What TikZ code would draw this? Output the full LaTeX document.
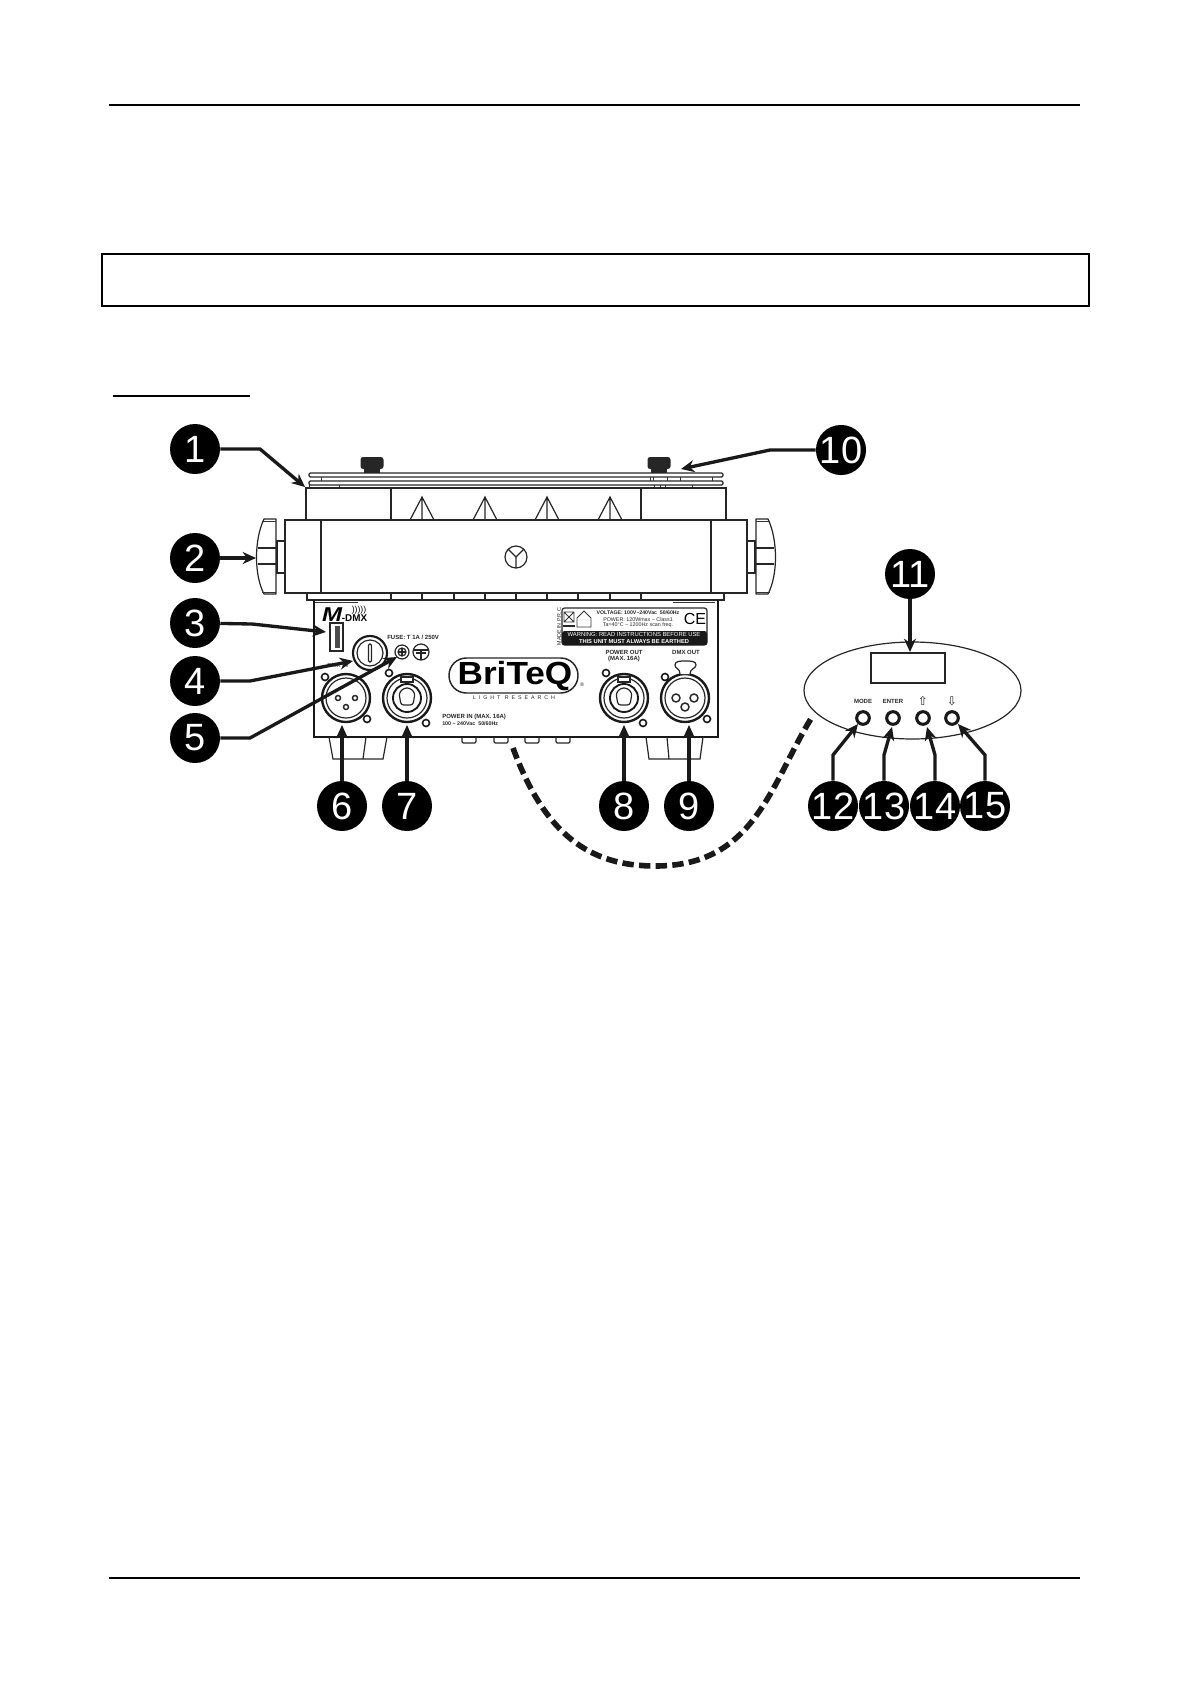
\documentclass[tikz,border=0pt]{standalone}
\usepackage{fontspec}
\usepackage{graphicx}
\setmainfont{Liberation Sans}
\newfontfamily\symfont{DejaVu Sans}
\usetikzlibrary{arrows.meta}

\tikzset{
    part/.style={draw=black!85, line width=0.9pt},
    thin part/.style={draw=black!80, line width=0.6pt},
    rule/.style={draw=black, line width=0.8pt},
    callout/.style={circle, fill=black, text=white, minimum size=37.5pt, inner sep=0pt,
        font=\fontsize{28.5}{30}\selectfont},
    pointer/.style={draw=black!90, line width=2.5pt, -{Stealth[length=10pt,width=9pt]}},
    cable/.style={draw=black!90, line width=4.2pt, dash pattern=on 8.5pt off 4pt},
    print/.style={inner sep=0pt, text=black!85, font=\bfseries\fontsize{4.5}{5}\selectfont},
    thin print/.style={inner sep=0pt, text=black!85, font=\fontsize{4}{5}\selectfont},
    warning print/.style={inner sep=0pt, text=white, font=\fontsize{4.4}{5}\selectfont},
    powercon/.pic={
        \draw[line width=1.8pt, draw=black!90] (0,0) circle (24);
        \draw[part] (0,0) circle (20);
        \draw[line width=1.4pt, draw=black!90] (0,0) circle (14);
        \draw[part, rounded corners=2pt] (-8,-5) -- (-3,-10) -- (3,-10) -- (8,-5) -- (6,7) -- (-6,7) -- cycle;
        \draw[part, fill=white] (-6,-21) rectangle (6,-16);
    },
    xlrplug/.pic={
        \draw[line width=1.8pt, draw=black!90] (0,0) circle (24);
        \draw[part] (0,0) circle (20);
    }
}

\begin{document}
\begin{tikzpicture}[x=0.75pt, y=-0.75pt]
    \useasboundingbox (0,0) rectangle (1192,1685);

    % page rules and empty box
    \draw[rule] (109,105) -- (1080,105);
    \draw[rule] (109,1578) -- (1080,1578);
    \draw[rule] (102,254) rectangle (1089,306);
    \draw[draw=black, line width=2.2pt] (113,396) -- (250,396);

    % top plate
    \draw[part, rounded corners=1pt] (309,473) rectangle (723,477);
    \draw[part, rounded corners=1pt] (309,481) rectangle (723,485);
    \foreach \bx in {321,650,653,667,680,712}
        \draw[thin part] (\bx,477) -- (\bx,481);
    \draw[thin part] (309,485) -- (309,488) (339,485) -- (339,488);
    \foreach \bx in {654,660,665,692}
        \draw[thin part] (\bx,485) -- (\bx,488);
    \foreach \kx in {372,659} {
        \fill[black!85, rounded corners=2pt] (\kx-11.5,457) rectangle (\kx+11.5,469);
        \fill[black!85] (\kx-8,469) rectangle (\kx+8,473);
    }

    % housing
    \draw[part] (306,488) rectangle (726,520);
    \draw[part] (391,488) -- (391,520) (641,488) -- (641,520);
    \foreach \tx in {422,485,547,610}
        \draw[part] (\tx-12,520) -- (\tx,497) -- (\tx+12,520) (\tx,497) -- (\tx,520);
    \draw[part] (285,520) rectangle (747,593);
    \draw[part] (321,520) -- (321,593) (711,520) -- (711,593);
    \draw[part] (516,557) circle (11);
    \draw[part] (516,568) -- (516,557) -- (508,549) (516,557) -- (524,549);

    % side knobs
    \foreach \kx/\ks in {0/1,1032/-1} {
        \begin{scope}[shift={(\kx,0)}, xscale=\ks]
            \draw[part] (277,541) rectangle (285,573);
            \draw[part, line join=round] (276,519) -- (264,519) .. controls (254,540) and (254,575) .. (264,594) -- (276,594) -- cycle;
            \draw[part] (258,548) -- (276,548) (258,564) -- (276,564);
            \draw[thin part] (262,521) -- (276,521) (262,592) -- (276,592);
        \end{scope}
    }

    % strip and rear panel
    \draw[part] (307,593) rectangle (724,600);
    \foreach \sx in {391,422,454,485,516,547,578,610,641}
        \draw[part] (\sx,593) -- (\sx,600);
    \draw[thin part] (313,602) -- (358,602) (673,602) -- (715,602);
    \draw[line width=1.5pt, draw=black!90] (314,600) -- (314,737) -- (718,737) -- (718,600);
    \draw[part] (329,737) -- (333,759) -- (383,759) -- (387,737);
    \draw[part] (366,737) -- (363,759);
    \draw[part] (646,737) -- (649,759) -- (700,759) -- (703,737);
    \draw[part] (667,737) -- (669,759);
    \foreach \fx in {469,501,532,563}
        \draw[part, rounded corners=1pt] (\fx-7,737) -- (\fx-7,743) -- (\fx+7,743) -- (\fx+7,737);

    % logo of the wireless system
    \node[inner sep=0pt, font=\bfseries\itshape\fontsize{15}{15}\selectfont] (mlogo) at (332,615) {\scalebox{1.2}[1]{M}};
    \node[inner sep=0pt, font=\bfseries\fontsize{7.4}{8}\selectfont] (dmxlogo) at (354.5,618.5) {-DMX};
    \node[inner sep=0pt, font=\fontsize{6.5}{7}\selectfont] (waves) at (359,610) {)))))};

    % usb, fuse, screw and earth
    \draw[part, line width=1.1pt] (330,623) rectangle (343,651);
    \fill[black!70] (335,626) rectangle (339.5,648);
    \draw[line width=1.6pt, draw=black!90] (370,653) circle (17);
    \draw[part] (370,653) circle (13);
    \draw[part, rounded corners=1pt] (368.5,644) rectangle (371.5,662);
    \draw[part] (402,652) circle (7);
    \draw[part] (402,652) circle (4);
    \draw[part] (398,652) -- (406,652) (402,648) -- (402,656);
    \draw[part] (421,652) circle (8);
    \draw[part] (413,650) -- (429,650) (416,653) -- (426,653) (421,650) -- (421,660);
    \node[print, anchor=west] (fuselabel) at (387,637) {FUSE: T 1A / 250V};
    \node[print, text=black!60, anchor=west] (dmxinlabel) at (327,665) {DMX IN};

    % connectors
    \pic at (346,698) {xlrplug};
    \foreach \px in {338,355,346} {
        \pgfmathsetmacro{\py}{\px==346 ? 707 : 698}
        \draw[line width=1.1pt, draw=black!85] (\px,\py) circle (2.5);
    }
    \pic at (407,698) {powercon};
    \pic at (624,698) {powercon};
    \pic at (685,698) {xlrplug};
    \draw[part, fill=white] (680,674) .. controls (680,668) and (675,669) .. (675,665) .. controls (675,661) and (680,661) .. (685,661) .. controls (691,661) and (696,661) .. (696,665) .. controls (696,669) and (690,668) .. (690,674);
    \foreach \px in {676,694,685} {
        \pgfmathsetmacro{\py}{\px==685 ? 707 : 698}
        \draw[part, line width=1.1pt] (\px,\py) circle (4);
    }
    \foreach \sx/\sy in {325/677,367/719,389/673,426/723,606/673,643/723,665/677,707/719}
        \draw[line width=1.2pt, draw=black!90] (\sx,\sy) circle (3.5);

    % brand
    \draw[part, line width=1.1pt, rounded corners=13pt] (449,658) rectangle (578,693);
    \node[inner sep=0pt, font=\bfseries\fontsize{24}{26}\selectfont] (brand) at (515,676) {\scalebox{1.1}[1]{BriTeQ}};
    \node[thin print, font=\fontsize{4}{5}\selectfont\addfontfeature{LetterSpace=55}] (subbrand) at (514,698) {LIGHT RESEARCH};
    \node[thin print] (regmark) at (582,685) {®};
    \node[print, anchor=west] (powerinlabel) at (442,717) {POWER IN (MAX. 16A)};
    \node[print, anchor=west, font=\bfseries\fontsize{4}{5}\selectfont] (powerinvolt) at (442,724) {100 \textasciitilde{} 240Vac\ \ 50/60Hz};

    % type plate
    \draw[part, rounded corners=2pt] (562,608) rectangle (707,645);
    \fill[black!90, rounded corners=2pt] (562,631) rectangle (707,645);
    \node[thin print, rotate=90] (origin) at (559,626) {MADE IN P.R.C.};
    \draw[thin part] (564,612) rectangle (574,622) (564,612) -- (574,622) (574,612) -- (564,622);
    \fill[black!85] (563,625) rectangle (575,627);
    \draw[thin part] (577,627) -- (577,618) -- (584,611) -- (591,618) -- (591,627) -- cycle;
    \node[thin print, font=\bfseries\fontsize{3.9}{5}\selectfont] (voltage) at (638,613) {VOLTAGE: 100V\textasciitilde{}240Vac\ \ 50/60Hz};
    \node[thin print] (power) at (638,619.5) {POWER: 120Wmax \textasciitilde{} Class1};
    \node[thin print] (temp) at (638,625.5) {Ta=40°C \textasciitilde{} 1200Hz scan freq.};
    \node[inner sep=0pt, font=\fontsize{12}{13}\selectfont] (ce) at (695,619) {CE};
    \node[warning print] (warnone) at (634,634.5) {WARNING: READ INSTRUCTIONS BEFORE USE};
    \node[warning print, font=\bfseries\fontsize{4.3}{5}\selectfont] (warntwo) at (634,641.5) {THIS UNIT MUST ALWAYS BE EARTHED};
    \node[print] (powerout) at (624,652) {POWER OUT};
    \node[print] (powermax) at (624,659) {(MAX. 16A)};
    \node[print] (dmxout) at (686,652) {DMX OUT};

    % control panel
    \draw[part] (912.5,690.5) ellipse (108.5 and 48.5);
    \draw[part] (871,653) rectangle (945,683);
    \node[print] (modelabel) at (863,701) {MODE};
    \node[print] (enterlabel) at (893,701) {ENTER};
    \node[print, font=\symfont\fontsize{9}{10}\selectfont] (uplabel) at (923,701) {⇧};
    \node[print, font=\symfont\fontsize{9}{10}\selectfont] (downlabel) at (952,701) {⇩};
    \foreach \bx in {863,893,923,952}
        \draw[line width=2.3pt, draw=black!90] (\bx,718) circle (6.3);

    % cable
    \coordinate (cablea) at (513,748);
    \coordinate (cablem) at (655,866);
    \coordinate (cableb) at (812,717);
    \draw[cable] (cablea) .. controls (545,835) and (590,866) .. (cablem) .. controls (755,866) and (770,785) .. (cableb);

    % numbered circles
    \node[callout] (n1) at (195,449) {1};
    \node[callout] (n2) at (195,558) {2};
    \node[callout] (n3) at (195,623) {3};
    \node[callout] (n4) at (195,681) {4};
    \node[callout] (n5) at (195,738) {5};
    \node[callout] (n6) at (342,806) {6};
    \node[callout] (n7) at (407,806) {7};
    \node[callout] (n8) at (624,806) {8};
    \node[callout] (n9) at (689,806) {9};
    \node[callout] (n10) at (841,450) {10};
    \node[callout] (n11) at (910,574) {11};
    \node[callout] (n12) at (833,806) {12};
    \node[callout] (n13) at (884,806) {13};
    \node[callout] (n14) at (935,806) {14};
    \node[callout] (n15) at (985,806) {15};

    % bends and ends of the pointers
    \coordinate (b1) at (260,449);
    \coordinate (t1) at (305,487);
    \coordinate (t2) at (256,558);
    \coordinate (b3) at (252,624);
    \coordinate (t3) at (326,632);
    \coordinate (b4) at (250,681);
    \coordinate (t4) at (353,661);
    \coordinate (b5) at (250,738);
    \coordinate (t5) at (397,657);
    \coordinate (t6) at (342,725);
    \coordinate (t7) at (407,725);
    \coordinate (t8) at (624,725);
    \coordinate (t9) at (689,725);
    \coordinate (b10) at (770,450);
    \coordinate (t10) at (681,469);
    \coordinate (t11) at (910,652);
    \coordinate (b12) at (833,755);
    \coordinate (t12) at (858,724);
    \coordinate (b13) at (884,755);
    \coordinate (t13) at (892,727);
    \coordinate (b14) at (935,755);
    \coordinate (t14) at (927,727);
    \coordinate (b15) at (985,755);
    \coordinate (t15) at (958,724);

    % pointers
    \draw[pointer] (n1) -- (b1) -- (t1);
    \draw[pointer] (n2) -- (t2);
    \draw[pointer] (n3) -- (b3) -- (t3);
    \draw[pointer] (n4) -- (b4) -- (t4);
    \draw[pointer] (n5) -- (b5) -- (t5);
    \draw[pointer] (n6) -- (t6);
    \draw[pointer] (n7) -- (t7);
    \draw[pointer] (n8) -- (t8);
    \draw[pointer] (n9) -- (t9);
    \draw[pointer] (n10) -- (b10) -- (t10);
    \draw[pointer] (n11) -- (t11);
    \draw[pointer] (n12) -- (b12) -- (t12);
    \draw[pointer] (n13) -- (b13) -- (t13);
    \draw[pointer] (n14) -- (b14) -- (t14);
    \draw[pointer] (n15) -- (b15) -- (t15);

\end{tikzpicture}
\end{document}
